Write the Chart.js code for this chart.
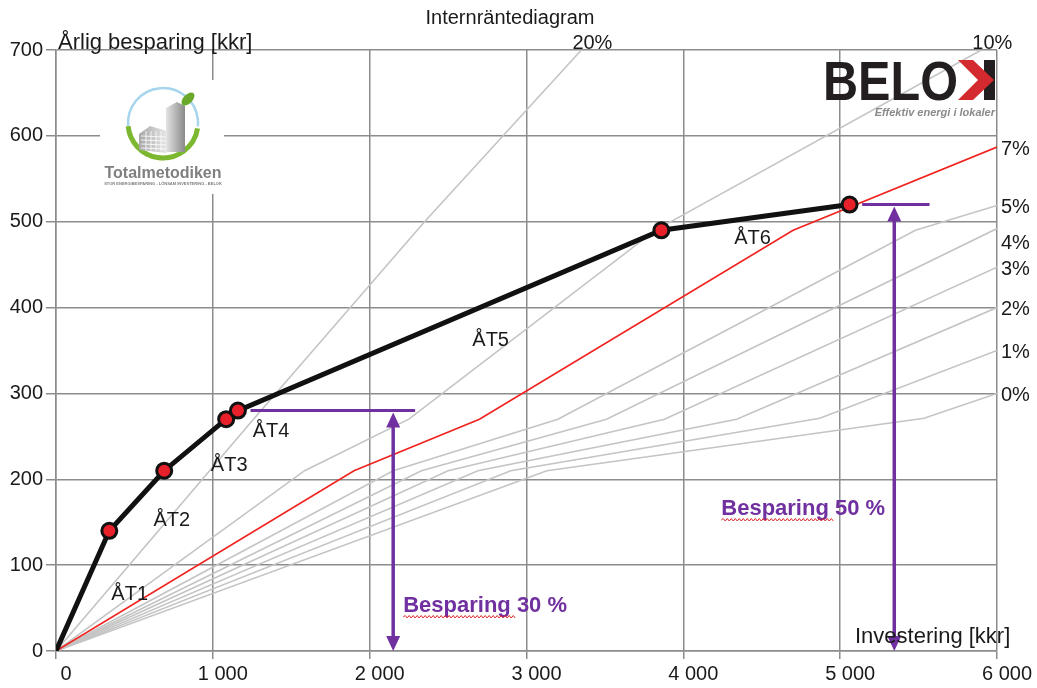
<!DOCTYPE html>
<html>
<head>
<meta charset="utf-8">
<script src="https://cdn.jsdelivr.net/npm/chart.js@4.4.1/dist/chart.umd.min.js"></script>
<style>
  body { margin: 0; background: #fff; }
  canvas { display: block; }
</style>
</head>
<body>
<canvas id="myChart" width="1037" height="688"></canvas>
<script>
// ÅT-stegen: investering [kkr] och årlig besparing [kkr]
const atInvestering = [0, 340, 690, 1085, 1160, 3860, 5060];
const atBesparing = [0, 140, 210, 270, 280, 490, 520];
const atNamn = ["ÅT1", "ÅT2", "ÅT3", "ÅT4", "ÅT5", "ÅT6"];

// internräntekurvor, [investering, besparing]
const irr20 = [[0, 0], [1255, 269], [2350, 500], [3350, 700]];
const irr10 = [[0, 0], [1585, 210], [2250, 270], [3820, 490], [5900, 700]];
const irr7 = [[0, 0], [1900, 210], [2700, 270], [4700, 490], [6000, 587]];
const irr5 = [[0, 0], [2150, 210], [3200, 270], [5480, 490], [6000, 519]];
const irr4 = [[0, 0], [2330, 210], [3510, 270], [6000, 492]];
const irr3 = [[0, 0], [2500, 210], [3880, 270], [6000, 447]];
const irr2 = [[0, 0], [2690, 210], [4340, 270], [6000, 400]];
const irr1 = [[0, 0], [2900, 210], [4870, 271], [6000, 350]];
const irr0 = [[0, 0], [3130, 210], [5535, 271], [6000, 300]];
const irrKurvor = [irr20, irr10, irr7, irr5, irr4, irr3, irr2, irr1, irr0];
const irrNamn = ["20%", "10%", "7%", "5%", "4%", "3%", "2%", "1%", "0%"];

// besparingspilar
const besparingNamn = ["Besparing 30 %", "Besparing 50 %"];
const besparingNiva = [280, 520];
const besparingPil = [2150, 5345];
const besparingLinje = [[1240, 2290], [5140, 5570]];

const xTicks = [0, 1000, 2000, 3000, 4000, 5000, 6000];
const yTicks = [0, 100, 200, 300, 400, 500, 600, 700];

const FONT = "'Liberation Sans', Arial, sans-serif";
const LILA = "#7030a0";

function tusental(v) {
  return String(v).replace(/\B(?=(\d{3})+(?!\d))/g, " ");
}

function vagigLinje(ctx, x1, x2, y) {
  ctx.save();
  ctx.strokeStyle = "#e02424";
  ctx.lineWidth = 1;
  ctx.beginPath();
  let upp = true;
  ctx.moveTo(x1, y);
  for (let x = x1 + 2; x <= x2; x += 2) {
    ctx.lineTo(x, upp ? y - 1.5 : y + 1);
    upp = !upp;
  }
  ctx.stroke();
  ctx.restore();
}

function pil(ctx, x, yTopp, yBotten) {
  ctx.save();
  ctx.strokeStyle = LILA;
  ctx.fillStyle = LILA;
  ctx.lineWidth = 3.5;
  ctx.beginPath();
  ctx.moveTo(x, yTopp + 12);
  ctx.lineTo(x, yBotten - 12);
  ctx.stroke();
  ctx.beginPath();
  ctx.moveTo(x, yTopp + 1);
  ctx.lineTo(x - 7, yTopp + 16);
  ctx.lineTo(x + 7, yTopp + 16);
  ctx.closePath();
  ctx.fill();
  ctx.beginPath();
  ctx.moveTo(x, yBotten);
  ctx.lineTo(x - 7, yBotten - 15);
  ctx.lineTo(x + 7, yBotten - 15);
  ctx.closePath();
  ctx.fill();
  ctx.restore();
}

function ritaTotalmetodiken(ctx) {
  ctx.save();
  ctx.fillStyle = "#fff";
  ctx.fillRect(100, 80, 124, 114);
  const cx = 163, cy = 123, r = 35;
  ctx.lineWidth = 2.5;
  ctx.strokeStyle = "#a6d5ee";
  ctx.beginPath();
  ctx.arc(cx, cy, r, Math.PI * 0.97, Math.PI * 2.03);
  ctx.stroke();
  ctx.lineWidth = 5;
  ctx.strokeStyle = "#7cb82f";
  ctx.beginPath();
  ctx.arc(cx, cy, r, Math.PI * 0.05, Math.PI * 0.97);
  ctx.stroke();
  // höga huset
  let g = ctx.createLinearGradient(166, 0, 185, 0);
  g.addColorStop(0, "#e3e3e3");
  g.addColorStop(1, "#8a8a8a");
  ctx.fillStyle = g;
  ctx.beginPath();
  ctx.moveTo(166, 108); ctx.lineTo(177, 102); ctx.lineTo(185, 106);
  ctx.lineTo(185, 152); ctx.lineTo(166, 152);
  ctx.closePath(); ctx.fill();
  // låga huset
  g = ctx.createLinearGradient(139, 0, 167, 0);
  g.addColorStop(0, "#a8a8a8");
  g.addColorStop(1, "#e6e6e6");
  ctx.fillStyle = g;
  ctx.beginPath();
  ctx.moveTo(139, 134); ctx.lineTo(150, 126); ctx.lineTo(167, 131);
  ctx.lineTo(167, 153); ctx.lineTo(139, 150);
  ctx.closePath(); ctx.fill();
  ctx.strokeStyle = "rgba(255,255,255,0.8)";
  ctx.lineWidth = 1;
  for (let y = 136; y < 152; y += 4) {
    ctx.beginPath(); ctx.moveTo(141, y); ctx.lineTo(166, y + 1); ctx.stroke();
  }
  for (let x = 146; x < 166; x += 5) {
    ctx.beginPath(); ctx.moveTo(x, 131); ctx.lineTo(x, 151); ctx.stroke();
  }
  // blad
  ctx.fillStyle = "#6aa829";
  ctx.beginPath();
  ctx.ellipse(188, 99, 8, 4.5, -Math.PI / 4, 0, Math.PI * 2);
  ctx.fill();
  ctx.fillStyle = "#7f7f7f";
  ctx.textAlign = "center";
  ctx.textBaseline = "alphabetic";
  ctx.font = "bold 16px " + FONT;
  ctx.fillText("Totalmetodiken", cx, 178);
  ctx.font = "bold 4px " + FONT;
  ctx.fillText("STOR ENERGIBESPARING - LÖNSAM INVESTERING - BELOK", cx, 185);
  ctx.restore();
}

function ritaBelok(ctx) {
  ctx.save();
  ctx.fillStyle = "#231f20";
  ctx.font = "bold 55px " + FONT;
  ctx.textAlign = "left";
  ctx.textBaseline = "alphabetic";
  ctx.fillText("BELO", 823, 100, 135);
  ctx.fillRect(984, 60, 11, 40);
  ctx.fillStyle = "#d42a2f";
  ctx.beginPath();
  ctx.moveTo(958, 60); ctx.lineTo(973, 60); ctx.lineTo(994, 80);
  ctx.lineTo(973, 100); ctx.lineTo(958, 100); ctx.lineTo(978, 80);
  ctx.closePath(); ctx.fill();
  ctx.fillStyle = "#8a8a8a";
  ctx.font = "italic bold 11px " + FONT;
  ctx.textAlign = "right";
  ctx.fillText("Effektiv energi i lokaler", 995, 116);
  ctx.restore();
}

const annoteringar = {
  id: "annoteringar",
  afterDatasetsDraw(chart) {
    const ctx = chart.ctx;
    const xs = chart.scales.x, ys = chart.scales.y;
    const area = chart.chartArea;

    // ÅT-etiketter vid segmentens mitt
    const forskjut = [[47, 4], [35, 20], [34, 21], [39, 17], [41, 20], [-3, 21]];
    ctx.save();
    ctx.fillStyle = "#1a1a1a";
    ctx.font = "20px " + FONT;
    ctx.textAlign = "center";
    ctx.textBaseline = "middle";
    atNamn.forEach((namn, i) => {
      const mx = xs.getPixelForValue((atInvestering[i] + atInvestering[i + 1]) / 2);
      const my = ys.getPixelForValue((atBesparing[i] + atBesparing[i + 1]) / 2);
      ctx.fillText(namn, mx + forskjut[i][0], my + forskjut[i][1]);
    });
    ctx.restore();

    // räntesatser vid kurvornas slut
    ctx.save();
    ctx.fillStyle = "#1a1a1a";
    ctx.font = "20px " + FONT;
    irrKurvor.forEach((kurva, i) => {
      const sista = kurva[kurva.length - 1];
      const px = xs.getPixelForValue(sista[0]);
      const py = ys.getPixelForValue(sista[1]);
      if (sista[1] >= 700) {
        ctx.textAlign = "center";
        ctx.textBaseline = "alphabetic";
        ctx.fillText(irrNamn[i], px + 11, area.top - 1);
      } else {
        ctx.textAlign = "left";
        ctx.textBaseline = "middle";
        const nudge = irrNamn[i] === "4%" ? 15 : 2;
        ctx.fillText(irrNamn[i], area.right + 4, py + nudge);
      }
    });
    ctx.restore();

    // besparingspilar
    besparingNamn.forEach((namn, i) => {
      const y = ys.getPixelForValue(besparingNiva[i]);
      const x = xs.getPixelForValue(besparingPil[i]);
      ctx.save();
      ctx.strokeStyle = LILA;
      ctx.lineWidth = 3;
      ctx.beginPath();
      ctx.moveTo(xs.getPixelForValue(besparingLinje[i][0]), y);
      ctx.lineTo(xs.getPixelForValue(besparingLinje[i][1]), y);
      ctx.stroke();
      ctx.restore();
      pil(ctx, x, y + 1, area.bottom);

      ctx.save();
      ctx.font = "bold 22px " + FONT;
      ctx.fillStyle = LILA;
      ctx.textBaseline = "alphabetic";
      let tx, ty;
      if (i === 0) {
        tx = x + 10; ty = 612;
      } else {
        tx = x - 173; ty = 515;
      }
      ctx.fillText(namn, tx, ty);
      const ordBredd = ctx.measureText("Besparing").width;
      ctx.restore();
      vagigLinje(ctx, tx, tx + ordBredd + 5, ty + 5);
    });

    ritaTotalmetodiken(ctx);
    ritaBelok(ctx);

    // rubriker
    ctx.save();
    ctx.fillStyle = "#1a1a1a";
    ctx.textBaseline = "alphabetic";
    ctx.font = "20px " + FONT;
    ctx.textAlign = "center";
    ctx.fillText("Internräntediagram", 510, 24);
    ctx.textAlign = "left";
    ctx.font = "22px " + FONT;
    ctx.fillText("Årlig besparing [kkr]", 58, 49);
    ctx.fillText("Investering [kkr]", 855, 643);
    ctx.restore();
  }
};

const tillPunkter = kurva => kurva.map(([x, y]) => ({ x, y }));

const datasets = [{
  label: "ÅT",
  data: atInvestering.map((x, i) => ({ x, y: atBesparing[i] })),
  borderColor: "#111",
  borderWidth: 5,
  pointRadius: c => (c.dataIndex === 0 ? 0 : 7.5),
  pointBackgroundColor: "#e8202a",
  pointBorderColor: "#111",
  pointBorderWidth: 3,
  order: 0
}];
irrKurvor.forEach((kurva, i) => {
  const rod = irrNamn[i] === "7%";
  datasets.push({
    label: irrNamn[i],
    data: tillPunkter(kurva),
    borderColor: rod ? "#f0221e" : "#c4c4c4",
    borderWidth: 1.6,
    pointRadius: 0,
    order: rod ? 1 : 2
  });
});

new Chart("myChart", {
  type: "line",
  data: { datasets },
  options: {
    responsive: false,
    animation: false,
    events: [],
    layout: { padding: { top: 50, right: 40, left: 0, bottom: 0 } },
    elements: { line: { tension: 0 } },
    plugins: { legend: { display: false }, tooltip: { enabled: false } },
    scales: {
      x: {
        type: "linear",
        min: 0,
        max: 6000,
        afterBuildTicks: axis => { axis.ticks = xTicks.map(v => ({ value: v })); },
        afterFit: axis => { axis.height = 37; },
        grid: { color: "#8c8c8c", lineWidth: 1.5, tickLength: 8 },
        border: { color: "#8c8c8c", width: 1.5 },
        ticks: {
          autoSkip: false,
          maxRotation: 0,
          padding: 3,
          labelOffset: 10,
          color: "#1a1a1a",
          font: { family: FONT, size: 20 },
          callback: v => tusental(v)
        }
      },
      y: {
        type: "linear",
        min: 0,
        max: 700,
        afterBuildTicks: axis => { axis.ticks = yTicks.map(v => ({ value: v })); },
        afterFit: axis => { axis.width = 56; },
        grid: { color: "#8c8c8c", lineWidth: 1.5, tickLength: 10 },
        border: { color: "#8c8c8c", width: 1.5 },
        ticks: {
          autoSkip: false,
          padding: 3,
          color: "#1a1a1a",
          font: { family: FONT, size: 20 }
        }
      }
    }
  },
  plugins: [annoteringar]
});
</script>
</body>
</html>
